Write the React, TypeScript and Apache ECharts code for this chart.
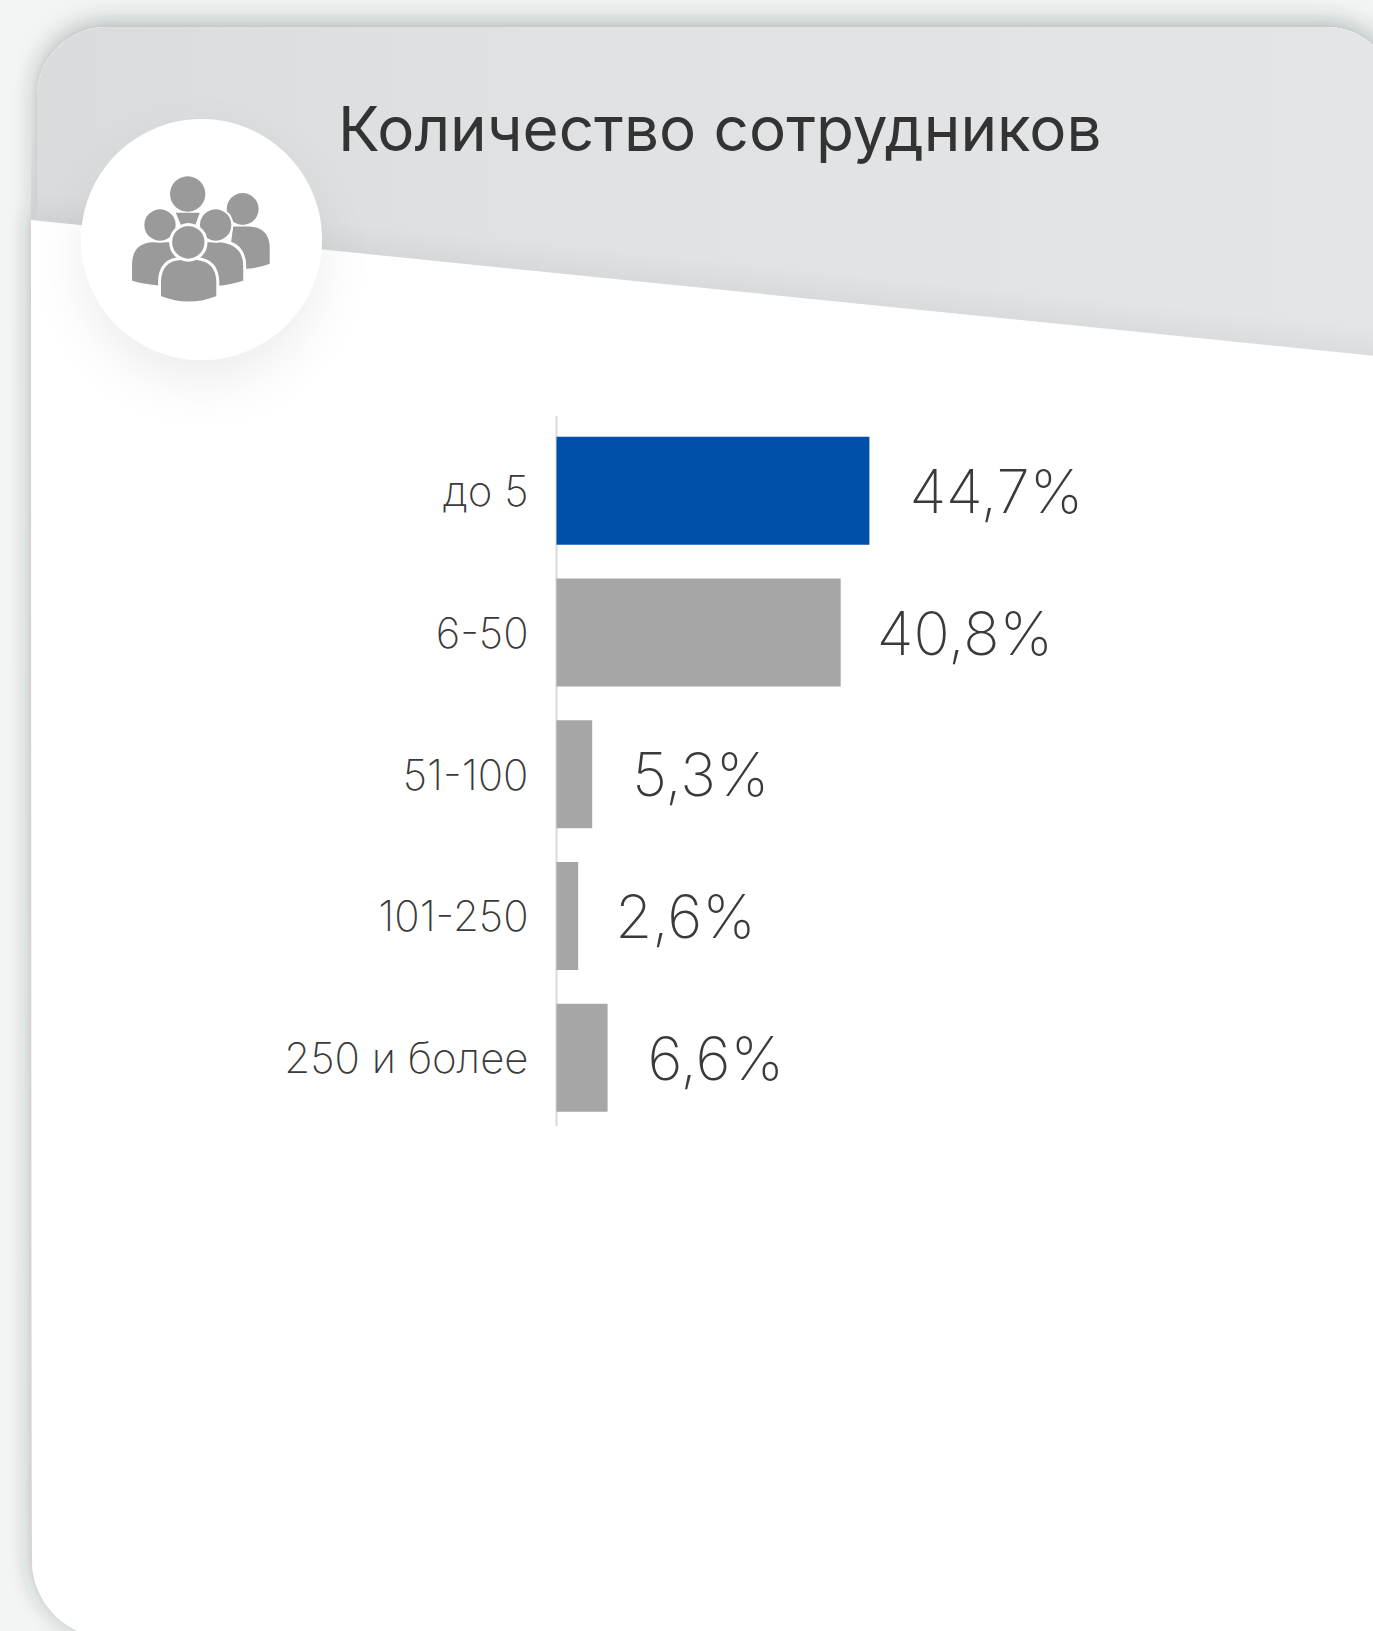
import React, { useEffect, useRef } from "react";
import * as echarts from "echarts";

const categories = ["до 5", "6-50", "51-100", "101-250", "250 и более"];
const shareLabels = ["44,7%", "40,8%", "5,3%", "2,6%", "6,6%"];
// Drawn bar lengths, in percentage-axis units.
const barLengths = [44.7, 40.6, 5.1, 3.1, 7.3];
const barColors = ["#0050aa", "#a6a6a6", "#a6a6a6", "#a6a6a6", "#a6a6a6"];
const titleText = "Количество сотрудников";

const FONT = "Inter";
const labelDistance = [40, 36, 40, 37, 40];

const cardPath = "M37,97 A70,70 0 0 1 107,27 L1326,27 A70,70 0 0 1 1396,97 L1396,1638 L110,1638 A78,78 0 0 1 32,1560 L31,220 L37,218 Z";
const headerPath = "M37,97 A70,70 0 0 1 107,27 L1326,27 A70,70 0 0 1 1396,97 L1396,358 L31,220 L37,220 Z";
const bodiesBack = "M700,680 L750,680 Q810,685 810,745 L810,792 Q775,806 735,808 L690,760 Z";
const bodiesMid = "M392,846 L392,790 Q395,725 460,723 L660,723 Q735,730 735,800 L735,846 Q695,861 650,863 L470,861 Q430,859 392,846 Z";
const bodyFront = "M479,892 L479,845 Q481,778 545,776 L590,776 Q652,781 654,845 L654,892 Q610,910 566,910 Q525,910 479,892 Z";
const bodyTop = "M528,639 L600,639 L585,680 L545,680 Z";

echarts.graphic.registerShape("cardShape", echarts.graphic.extendPath(cardPath, {}));
echarts.graphic.registerShape("headerShape", echarts.graphic.extendPath(headerPath, {}));
echarts.graphic.registerShape("bodyBack", echarts.graphic.extendPath(bodiesBack, {}));
echarts.graphic.registerShape("bodyMid", echarts.graphic.extendPath(bodiesMid, {}));
echarts.graphic.registerShape("bodyFront", echarts.graphic.extendPath(bodyFront, {}));
echarts.graphic.registerShape("bodyTop", echarts.graphic.extendPath(bodyTop, {}));

const ICON = "#9a9a9a";
const head = (x: number, y: number, r: number, outline = 0) => ({
  type: "circle",
  shape: { cx: x / 3, cy: y / 3, r: r / 3 },
  style: { fill: ICON, stroke: outline ? "#ffffff" : undefined, lineWidth: outline },
});
const body = (type: string, stroke = 0) => ({
  type,
  scaleX: 1 / 3,
  scaleY: 1 / 3,
  style: { fill: ICON, stroke: stroke ? "#ffffff" : undefined, lineWidth: stroke },
});

export default function App() {
  const ref = useRef<HTMLDivElement>(null);
  useEffect(() => {
    const chart = echarts.init(ref.current!, undefined, { renderer: "svg" });
    chart.setOption({
      animation: false,
      backgroundColor: "#f2f5f4",
      title: {
        text: titleText,
        left: 333,
        top: 92,
        textStyle: { fontFamily: FONT, fontWeight: 400, fontSize: 62, color: "#333333" },
      },
      grid: { left: 556.5, top: 420, width: 700, height: 708.5, containLabel: false },
      xAxis: { type: "value", min: 0, max: 100, show: false },
      yAxis: {
        type: "category",
        inverse: true,
        data: categories,
        axisTick: { show: false },
        axisLine: { show: false },
        axisLabel: { margin: 28, fontFamily: FONT, fontWeight: 200, fontSize: 42, color: "#3a3a3a" },
      },
      series: [
        {
          type: "bar",
          barWidth: 108,
          z: 3,
          data: barLengths.map((v, i) => ({
            value: v,
            itemStyle: { color: barColors[i] },
            label: { distance: labelDistance[i] },
          })),
          label: {
            show: true,
            position: "right",
            formatter: (p: any) => shareLabels[p.dataIndex],
            fontFamily: FONT,
            fontWeight: 200,
            fontSize: 60,
            color: "#3a3a3a",
          },
        },
      ],
      graphic: [
        {
          type: "group",
          z: -1,
          silent: true,
          children: [
            { type: "cardShape", style: { fill: "#ffffff", shadowBlur: 20, shadowColor: "rgba(60,70,70,0.2)" } },
            { type: "cardShape", style: { fill: "#ffffff", shadowBlur: 24, shadowOffsetY: -8, shadowColor: "rgba(60,70,70,0.2)" } },
            {
              type: "rect",
              shape: { x: 31, y: 130, width: 6, height: 90 },
              style: {
                fill: new echarts.graphic.LinearGradient(0, 0, 0, 1, [
                  { offset: 0, color: "rgba(205,209,209,0)" },
                  { offset: 1, color: "rgba(205,209,209,0.85)" },
                ]),
              },
            },
            {
              type: "headerShape",
              style: {
                fill: new echarts.graphic.LinearGradient(
                  37, 0, 1373, 0,
                  [
                    { offset: 0, color: "#d9dbdd" },
                    { offset: 0.35, color: "#dfe1e2" },
                    { offset: 1, color: "#e3e5e6" },
                  ],
                  true
                ),
              },
            },
            {
              type: "headerShape",
              style: {
                fill: new echarts.graphic.LinearGradient(
                  0, 0, -21.8, 214.7,
                  [
                    { offset: 0.86, color: "rgba(0,0,10,0)" },
                    { offset: 1, color: "rgba(0,0,10,0.04)" },
                  ],
                  true
                ),
              },
            },
            {
              type: "circle",
              shape: { cx: 201.5, cy: 239.5, r: 120.5 },
              style: { fill: "#ffffff", shadowBlur: 50, shadowOffsetY: 22, shadowColor: "rgba(0,0,0,0.07)" },
            },
            body("bodyBack"),
            head(728, 627, 48),
            body("bodyTop"),
            head(563, 582, 53),
            body("bodyMid", 9),
            head(480, 675, 50, 2),
            head(647, 675, 50, 2),
            body("bodyFront", 9),
            head(565, 727, 53, 3),
            {
              type: "line",
              shape: { x1: 556.5, y1: 416, x2: 556.5, y2: 1126 },
              style: { stroke: "#d9d9d9", lineWidth: 2 },
            },
          ],
        },
      ],
    });
    return () => chart.dispose();
  }, []);
  return <div ref={ref} style={{ position: "absolute", left: 0, top: 0, width: 1373, height: 1631 }} />;
}
